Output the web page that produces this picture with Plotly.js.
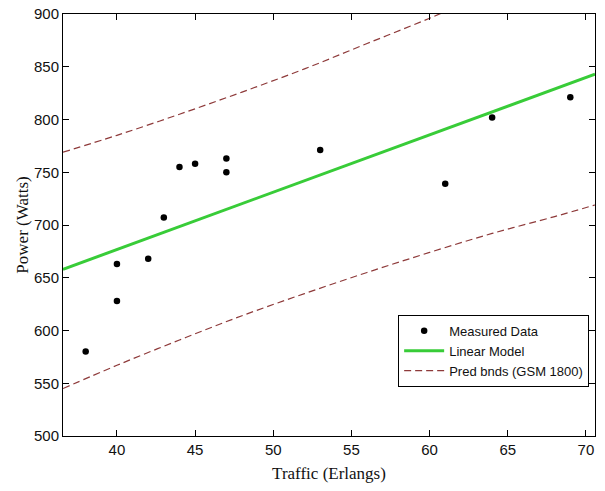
<!DOCTYPE html>
<html>
<head>
<meta charset="utf-8">
<script src="https://cdn.plot.ly/plotly-3.0.1.min.js"></script>
<style>html,body{margin:0;padding:0;background:#fff;}#chart{width:605px;height:491px;}</style>
</head>
<body>
<div id="chart"></div>
<script>
// Measured data
const trafficX = [38, 40, 40, 42, 43, 44, 45, 47, 47, 53, 61, 64, 69];
const powerY   = [580, 628, 663, 668, 707, 755, 758, 763, 750, 771, 739, 802, 821];
// Linear model (read at the axis ends)
const modelX = [36.55, 70.58];
const modelY = [658, 843];
// Prediction bounds
const upperX = [36.55, 40, 44, 48, 52, 56, 60, 64];
const upperY = [769, 785, 805, 826, 848, 872, 896, 922];
const lowerX = [36.55, 40, 44, 48, 52, 56, 60, 64, 68, 70.58];
const lowerY = [545, 567, 591, 614, 635, 655, 674, 692, 708, 719];
const xTicks = [40, 45, 50, 55, 60, 65, 70];
const yTicks = [500, 550, 600, 650, 700, 750, 800, 850, 900];

const sansFont = '"Liberation Sans", Arial, sans-serif';
const serifFont = '"Liberation Serif", "Times New Roman", serif';
const bandColor = '#8e3a3a';

const traces = [
  {x: trafficX, y: powerY, type: 'scatter', mode: 'markers', name: 'Measured Data',
   marker: {color: '#000', size: 6.5}},
  {x: modelX, y: modelY, type: 'scatter', mode: 'lines', name: 'Linear Model',
   line: {color: '#38cc38', width: 3}},
  {x: upperX, y: upperY, type: 'scatter', mode: 'lines', name: 'Pred bnds (GSM 1800)',
   line: {color: bandColor, width: 1.2, dash: '7px,4px', shape: 'spline'}, legendgroup: 'pb'},
  {x: lowerX, y: lowerY, type: 'scatter', mode: 'lines', name: 'Pred bnds (GSM 1800)',
   line: {color: bandColor, width: 1.2, dash: '7px,4px', shape: 'spline'}, legendgroup: 'pb', showlegend: false}
];

const axisCommon = {
  showline: true, linecolor: '#000', linewidth: 1, mirror: 'ticks',
  ticks: 'inside', ticklen: 6, tickcolor: '#000', tickwidth: 1,
  showgrid: false, zeroline: false,
  tickfont: {family: sansFont, size: 15, color: '#111'}
};

const layout = {
  width: 605, height: 491,
  margin: {l: 63, r: 10, t: 14, b: 55},
  paper_bgcolor: '#fff', plot_bgcolor: '#fff',
  showlegend: true,
  xaxis: Object.assign({}, axisCommon, {
    range: [36.55, 70.58], tickvals: xTicks, ticktext: xTicks.map(String),
    title: {text: 'Traffic (Erlangs)', font: {family: serifFont, size: 17, color: '#111'}, standoff: 10}
  }),
  yaxis: Object.assign({}, axisCommon, {
    range: [500, 900], tickvals: yTicks, ticktext: yTicks.map(String),
    title: {text: 'Power (Watts)', font: {family: serifFont, size: 17, color: '#111'}, standoff: 1}
  }),
  legend: {
    x: 0.989, xanchor: 'right', y: 0.287, yanchor: 'top',
    bgcolor: '#fff', bordercolor: '#000', borderwidth: 1,
    font: {family: sansFont, size: 13, color: '#111'},
    tracegroupgap: 0, itemwidth: 40
  }
};

Plotly.newPlot('chart', traces, layout, {staticPlot: true, displayModeBar: false});
</script>
</body>
</html>
